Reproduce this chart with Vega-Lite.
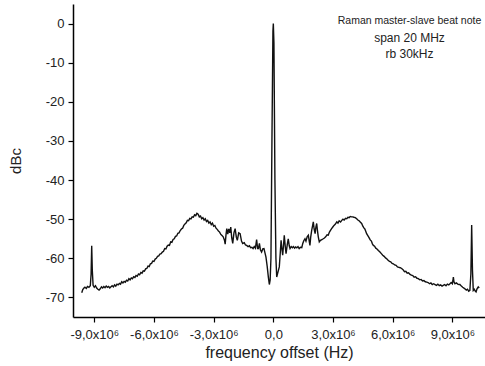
{
  "$schema": "https://vega.github.io/schema/vega-lite/v6.json",
  "width": 412,
  "height": 313,
  "autosize": {"type": "none"},
  "padding": {"left": 73, "top": 4, "right": 0, "bottom": 49},
  "background": "white",
  "config": {"view": {"stroke": null}, "font": "Liberation Sans"},
  "layer": [
    {
      "data": {"values": [
        {"f": -9.63e6, "dbc": -68.8}, {"f": -9.58e6, "dbc": -68.0}, {"f": -9.52e6, "dbc": -67.6}, {"f": -9.47e6, "dbc": -67.4},
        {"f": -9.40e6, "dbc": -67.7}, {"f": -9.34e6, "dbc": -67.2}, {"f": -9.27e6, "dbc": -67.4}, {"f": -9.20e6, "dbc": -67.0},
        {"f": -9.16e6, "dbc": -64.0}, {"f": -9.13e6, "dbc": -56.8}, {"f": -9.10e6, "dbc": -63.0}, {"f": -9.06e6, "dbc": -66.9},
        {"f": -9.00e6, "dbc": -67.4}, {"f": -8.94e6, "dbc": -67.0}, {"f": -8.88e6, "dbc": -67.6}, {"f": -8.82e6, "dbc": -67.9},
        {"f": -8.76e6, "dbc": -68.1}, {"f": -8.70e6, "dbc": -67.8}, {"f": -8.64e6, "dbc": -67.3}, {"f": -8.58e6, "dbc": -67.6},
        {"f": -8.52e6, "dbc": -67.2}, {"f": -8.46e6, "dbc": -67.5}, {"f": -8.40e6, "dbc": -67.1}, {"f": -8.34e6, "dbc": -67.4},
        {"f": -8.28e6, "dbc": -67.2}, {"f": -8.22e6, "dbc": -67.6}, {"f": -8.16e6, "dbc": -67.3}, {"f": -8.10e6, "dbc": -67.0},
        {"f": -8.04e6, "dbc": -67.3}, {"f": -7.98e6, "dbc": -66.8}, {"f": -7.92e6, "dbc": -67.1}, {"f": -7.86e6, "dbc": -66.6},
        {"f": -7.80e6, "dbc": -66.8}, {"f": -7.74e6, "dbc": -66.4}, {"f": -7.68e6, "dbc": -66.6}, {"f": -7.62e6, "dbc": -66.0},
        {"f": -7.56e6, "dbc": -66.3}, {"f": -7.50e6, "dbc": -65.9}, {"f": -7.44e6, "dbc": -66.1}, {"f": -7.38e6, "dbc": -65.6},
        {"f": -7.32e6, "dbc": -65.8}, {"f": -7.26e6, "dbc": -65.2}, {"f": -7.20e6, "dbc": -65.5}, {"f": -7.14e6, "dbc": -65.0},
        {"f": -7.08e6, "dbc": -65.2}, {"f": -7.02e6, "dbc": -64.7}, {"f": -6.96e6, "dbc": -64.9}, {"f": -6.90e6, "dbc": -64.4},
        {"f": -6.84e6, "dbc": -64.6}, {"f": -6.78e6, "dbc": -64.0}, {"f": -6.72e6, "dbc": -64.2}, {"f": -6.66e6, "dbc": -63.6},
        {"f": -6.60e6, "dbc": -63.8}, {"f": -6.54e6, "dbc": -63.2}, {"f": -6.48e6, "dbc": -63.3}, {"f": -6.42e6, "dbc": -62.7},
        {"f": -6.36e6, "dbc": -62.6}, {"f": -6.30e6, "dbc": -62.0}, {"f": -6.24e6, "dbc": -62.1}, {"f": -6.18e6, "dbc": -61.4},
        {"f": -6.12e6, "dbc": -61.3}, {"f": -6.06e6, "dbc": -60.7}, {"f": -6.00e6, "dbc": -60.8}, {"f": -5.94e6, "dbc": -60.2},
        {"f": -5.88e6, "dbc": -60.0}, {"f": -5.82e6, "dbc": -59.5}, {"f": -5.76e6, "dbc": -59.4}, {"f": -5.70e6, "dbc": -58.9},
        {"f": -5.64e6, "dbc": -58.8}, {"f": -5.58e6, "dbc": -58.4}, {"f": -5.52e6, "dbc": -58.2}, {"f": -5.46e6, "dbc": -57.5},
        {"f": -5.40e6, "dbc": -57.6}, {"f": -5.34e6, "dbc": -56.9}, {"f": -5.28e6, "dbc": -56.6}, {"f": -5.22e6, "dbc": -56.7},
        {"f": -5.16e6, "dbc": -55.8}, {"f": -5.10e6, "dbc": -55.9}, {"f": -5.04e6, "dbc": -55.2}, {"f": -4.98e6, "dbc": -55.0},
        {"f": -4.92e6, "dbc": -54.4}, {"f": -4.86e6, "dbc": -54.3}, {"f": -4.80e6, "dbc": -53.6}, {"f": -4.74e6, "dbc": -53.5},
        {"f": -4.68e6, "dbc": -52.9}, {"f": -4.62e6, "dbc": -52.5}, {"f": -4.56e6, "dbc": -52.3}, {"f": -4.50e6, "dbc": -51.6},
        {"f": -4.44e6, "dbc": -51.2}, {"f": -4.38e6, "dbc": -50.9}, {"f": -4.32e6, "dbc": -50.3}, {"f": -4.26e6, "dbc": -50.4},
        {"f": -4.20e6, "dbc": -49.8}, {"f": -4.14e6, "dbc": -49.9}, {"f": -4.08e6, "dbc": -49.4}, {"f": -4.02e6, "dbc": -49.5},
        {"f": -3.96e6, "dbc": -48.9}, {"f": -3.90e6, "dbc": -49.1}, {"f": -3.84e6, "dbc": -48.5}, {"f": -3.78e6, "dbc": -48.7},
        {"f": -3.72e6, "dbc": -49.4}, {"f": -3.66e6, "dbc": -49.2}, {"f": -3.60e6, "dbc": -49.9}, {"f": -3.54e6, "dbc": -49.6},
        {"f": -3.48e6, "dbc": -50.2}, {"f": -3.42e6, "dbc": -49.9}, {"f": -3.36e6, "dbc": -50.6}, {"f": -3.30e6, "dbc": -50.3},
        {"f": -3.24e6, "dbc": -51.0}, {"f": -3.18e6, "dbc": -50.7}, {"f": -3.12e6, "dbc": -51.4}, {"f": -3.06e6, "dbc": -51.0},
        {"f": -3.00e6, "dbc": -51.8}, {"f": -2.94e6, "dbc": -51.6}, {"f": -2.88e6, "dbc": -52.3}, {"f": -2.82e6, "dbc": -52.6},
        {"f": -2.76e6, "dbc": -53.0}, {"f": -2.70e6, "dbc": -53.3}, {"f": -2.64e6, "dbc": -53.9}, {"f": -2.58e6, "dbc": -54.2},
        {"f": -2.52e6, "dbc": -54.5}, {"f": -2.46e6, "dbc": -55.3}, {"f": -2.42e6, "dbc": -56.4}, {"f": -2.38e6, "dbc": -54.0},
        {"f": -2.34e6, "dbc": -52.4}, {"f": -2.29e6, "dbc": -53.8}, {"f": -2.24e6, "dbc": -52.5}, {"f": -2.19e6, "dbc": -53.5},
        {"f": -2.14e6, "dbc": -52.0}, {"f": -2.09e6, "dbc": -54.8}, {"f": -2.04e6, "dbc": -56.2}, {"f": -1.98e6, "dbc": -53.5},
        {"f": -1.92e6, "dbc": -52.4}, {"f": -1.86e6, "dbc": -54.6}, {"f": -1.81e6, "dbc": -55.4}, {"f": -1.74e6, "dbc": -53.5},
        {"f": -1.67e6, "dbc": -53.7}, {"f": -1.60e6, "dbc": -55.6}, {"f": -1.54e6, "dbc": -56.2}, {"f": -1.46e6, "dbc": -56.0},
        {"f": -1.40e6, "dbc": -56.6}, {"f": -1.34e6, "dbc": -56.7}, {"f": -1.27e6, "dbc": -57.0}, {"f": -1.20e6, "dbc": -56.8},
        {"f": -1.14e6, "dbc": -57.3}, {"f": -1.08e6, "dbc": -57.2}, {"f": -1.02e6, "dbc": -57.5}, {"f": -0.96e6, "dbc": -57.0},
        {"f": -0.90e6, "dbc": -57.4}, {"f": -0.84e6, "dbc": -55.2}, {"f": -0.79e6, "dbc": -57.5}, {"f": -0.75e6, "dbc": -57.5},
        {"f": -0.70e6, "dbc": -56.2}, {"f": -0.65e6, "dbc": -57.8}, {"f": -0.59e6, "dbc": -58.4}, {"f": -0.53e6, "dbc": -57.6},
        {"f": -0.47e6, "dbc": -57.5}, {"f": -0.42e6, "dbc": -58.6}, {"f": -0.37e6, "dbc": -59.7}, {"f": -0.31e6, "dbc": -62.0},
        {"f": -0.25e6, "dbc": -64.8}, {"f": -0.20e6, "dbc": -66.7}, {"f": -0.16e6, "dbc": -65.5}, {"f": -0.12e6, "dbc": -60.0},
        {"f": -0.07e6, "dbc": -30.0}, {"f": -0.02e6, "dbc": -2.0}, {"f": 0, "dbc": 0}, {"f": 0.03e6, "dbc": -5.0},
        {"f": 0.08e6, "dbc": -40.0}, {"f": 0.13e6, "dbc": -60.0}, {"f": 0.17e6, "dbc": -64.8}, {"f": 0.22e6, "dbc": -63.8},
        {"f": 0.30e6, "dbc": -62.2}, {"f": 0.35e6, "dbc": -58.5}, {"f": 0.39e6, "dbc": -55.4}, {"f": 0.43e6, "dbc": -57.5},
        {"f": 0.47e6, "dbc": -59.2}, {"f": 0.51e6, "dbc": -56.8}, {"f": 0.55e6, "dbc": -54.1}, {"f": 0.60e6, "dbc": -57.0},
        {"f": 0.64e6, "dbc": -58.8}, {"f": 0.70e6, "dbc": -56.5}, {"f": 0.75e6, "dbc": -55.0}, {"f": 0.80e6, "dbc": -56.8},
        {"f": 0.84e6, "dbc": -57.5}, {"f": 0.90e6, "dbc": -57.0}, {"f": 0.96e6, "dbc": -57.3}, {"f": 1.01e6, "dbc": -57.0},
        {"f": 1.07e6, "dbc": -57.4}, {"f": 1.12e6, "dbc": -57.1}, {"f": 1.18e6, "dbc": -57.3}, {"f": 1.24e6, "dbc": -57.0},
        {"f": 1.30e6, "dbc": -57.5}, {"f": 1.36e6, "dbc": -57.2}, {"f": 1.43e6, "dbc": -57.3}, {"f": 1.48e6, "dbc": -56.2},
        {"f": 1.53e6, "dbc": -55.5}, {"f": 1.59e6, "dbc": -55.0}, {"f": 1.64e6, "dbc": -55.6}, {"f": 1.70e6, "dbc": -54.5},
        {"f": 1.76e6, "dbc": -54.1}, {"f": 1.80e6, "dbc": -55.5}, {"f": 1.84e6, "dbc": -56.7}, {"f": 1.88e6, "dbc": -54.5},
        {"f": 1.93e6, "dbc": -52.8}, {"f": 1.97e6, "dbc": -51.8}, {"f": 2.01e6, "dbc": -50.7}, {"f": 2.05e6, "dbc": -52.5},
        {"f": 2.10e6, "dbc": -53.7}, {"f": 2.14e6, "dbc": -52.0}, {"f": 2.18e6, "dbc": -51.1}, {"f": 2.22e6, "dbc": -53.0},
        {"f": 2.26e6, "dbc": -54.5}, {"f": 2.31e6, "dbc": -55.8}, {"f": 2.37e6, "dbc": -55.4}, {"f": 2.44e6, "dbc": -55.2},
        {"f": 2.51e6, "dbc": -55.0}, {"f": 2.57e6, "dbc": -54.8}, {"f": 2.63e6, "dbc": -54.5}, {"f": 2.70e6, "dbc": -54.0},
        {"f": 2.76e6, "dbc": -54.1}, {"f": 2.82e6, "dbc": -53.3}, {"f": 2.88e6, "dbc": -52.8}, {"f": 2.93e6, "dbc": -52.4},
        {"f": 2.99e6, "dbc": -52.0}, {"f": 3.05e6, "dbc": -51.6}, {"f": 3.11e6, "dbc": -51.3}, {"f": 3.19e6, "dbc": -50.7},
        {"f": 3.25e6, "dbc": -51.0}, {"f": 3.31e6, "dbc": -50.4}, {"f": 3.38e6, "dbc": -50.7}, {"f": 3.44e6, "dbc": -50.3},
        {"f": 3.50e6, "dbc": -50.0}, {"f": 3.56e6, "dbc": -50.2}, {"f": 3.63e6, "dbc": -49.8}, {"f": 3.69e6, "dbc": -49.9},
        {"f": 3.75e6, "dbc": -49.5}, {"f": 3.81e6, "dbc": -49.6}, {"f": 3.87e6, "dbc": -49.3}, {"f": 3.93e6, "dbc": -49.4},
        {"f": 3.99e6, "dbc": -49.4}, {"f": 4.05e6, "dbc": -49.5}, {"f": 4.12e6, "dbc": -49.6}, {"f": 4.19e6, "dbc": -49.9},
        {"f": 4.25e6, "dbc": -50.2}, {"f": 4.31e6, "dbc": -50.4}, {"f": 4.38e6, "dbc": -50.8}, {"f": 4.44e6, "dbc": -51.1},
        {"f": 4.50e6, "dbc": -51.8}, {"f": 4.56e6, "dbc": -52.3}, {"f": 4.60e6, "dbc": -52.5}, {"f": 4.64e6, "dbc": -53.0},
        {"f": 4.69e6, "dbc": -53.7}, {"f": 4.75e6, "dbc": -54.2}, {"f": 4.81e6, "dbc": -54.7}, {"f": 4.87e6, "dbc": -55.3},
        {"f": 4.93e6, "dbc": -55.6}, {"f": 4.98e6, "dbc": -56.3}, {"f": 5.03e6, "dbc": -56.7}, {"f": 5.09e6, "dbc": -56.9},
        {"f": 5.15e6, "dbc": -57.4}, {"f": 5.21e6, "dbc": -57.6}, {"f": 5.28e6, "dbc": -58.0}, {"f": 5.36e6, "dbc": -58.4},
        {"f": 5.43e6, "dbc": -58.8}, {"f": 5.50e6, "dbc": -59.2}, {"f": 5.57e6, "dbc": -59.5}, {"f": 5.64e6, "dbc": -59.9},
        {"f": 5.70e6, "dbc": -60.1}, {"f": 5.77e6, "dbc": -60.5}, {"f": 5.84e6, "dbc": -60.8}, {"f": 5.90e6, "dbc": -60.9},
        {"f": 5.97e6, "dbc": -61.3}, {"f": 6.03e6, "dbc": -61.4}, {"f": 6.10e6, "dbc": -61.7}, {"f": 6.17e6, "dbc": -61.8},
        {"f": 6.24e6, "dbc": -62.2}, {"f": 6.31e6, "dbc": -62.3}, {"f": 6.38e6, "dbc": -62.4}, {"f": 6.45e6, "dbc": -62.6},
        {"f": 6.52e6, "dbc": -62.9}, {"f": 6.59e6, "dbc": -63.4}, {"f": 6.66e6, "dbc": -63.3}, {"f": 6.73e6, "dbc": -63.8},
        {"f": 6.80e6, "dbc": -63.7}, {"f": 6.87e6, "dbc": -64.1}, {"f": 6.94e6, "dbc": -64.3}, {"f": 7.01e6, "dbc": -64.4},
        {"f": 7.08e6, "dbc": -64.8}, {"f": 7.15e6, "dbc": -64.7}, {"f": 7.22e6, "dbc": -65.1}, {"f": 7.29e6, "dbc": -65.2},
        {"f": 7.36e6, "dbc": -65.5}, {"f": 7.43e6, "dbc": -65.4}, {"f": 7.50e6, "dbc": -65.8}, {"f": 7.57e6, "dbc": -65.7},
        {"f": 7.64e6, "dbc": -66.0}, {"f": 7.71e6, "dbc": -66.1}, {"f": 7.78e6, "dbc": -66.2}, {"f": 7.85e6, "dbc": -66.5},
        {"f": 7.92e6, "dbc": -66.3}, {"f": 7.99e6, "dbc": -66.7}, {"f": 8.06e6, "dbc": -66.5}, {"f": 8.13e6, "dbc": -66.7},
        {"f": 8.20e6, "dbc": -66.9}, {"f": 8.27e6, "dbc": -66.6}, {"f": 8.34e6, "dbc": -67.0}, {"f": 8.41e6, "dbc": -66.8},
        {"f": 8.48e6, "dbc": -67.1}, {"f": 8.54e6, "dbc": -66.9}, {"f": 8.61e6, "dbc": -66.7}, {"f": 8.68e6, "dbc": -67.0},
        {"f": 8.75e6, "dbc": -66.6}, {"f": 8.82e6, "dbc": -66.8}, {"f": 8.88e6, "dbc": -66.5}, {"f": 8.94e6, "dbc": -66.2},
        {"f": 9.00e6, "dbc": -66.5}, {"f": 9.03e6, "dbc": -65.6}, {"f": 9.05e6, "dbc": -64.8}, {"f": 9.08e6, "dbc": -66.0},
        {"f": 9.13e6, "dbc": -66.5}, {"f": 9.20e6, "dbc": -66.3}, {"f": 9.27e6, "dbc": -66.6}, {"f": 9.33e6, "dbc": -66.7},
        {"f": 9.38e6, "dbc": -66.7}, {"f": 9.45e6, "dbc": -67.1}, {"f": 9.52e6, "dbc": -67.4}, {"f": 9.58e6, "dbc": -67.6},
        {"f": 9.63e6, "dbc": -67.8}, {"f": 9.70e6, "dbc": -68.1}, {"f": 9.76e6, "dbc": -67.9}, {"f": 9.82e6, "dbc": -68.4},
        {"f": 9.88e6, "dbc": -68.2}, {"f": 9.93e6, "dbc": -64.0}, {"f": 9.97e6, "dbc": -51.5}, {"f": 10.01e6, "dbc": -63.0},
        {"f": 10.05e6, "dbc": -68.2}, {"f": 10.10e6, "dbc": -67.9}, {"f": 10.15e6, "dbc": -68.4}, {"f": 10.19e6, "dbc": -68.6},
        {"f": 10.24e6, "dbc": -67.8}, {"f": 10.30e6, "dbc": -67.3}, {"f": 10.35e6, "dbc": -67.6}
      ]},
      "mark": {"type": "line", "color": "#111111", "strokeWidth": 1.4, "clip": true},
      "encoding": {
        "x": {
          "field": "f", "type": "quantitative",
          "scale": {"domain": [-10.07e6, 10.64e6], "nice": false, "zero": false},
          "axis": {
            "values": [-9e6, -7.5e6, -6e6, -4.5e6, -3e6, -1.5e6, 0, 1.5e6, 3e6, 4.5e6, 6e6, 7.5e6, 9e6, 10.5e6],
            "labelExpr": "datum.value % 3000000 != 0 ? '' : (datum.value == 0 ? '0,0' : (datum.value < 0 ? '-' : '') + replace(format(abs(datum.value) / 1000000, '.1f'), '.', ',') + 'x10⁶')",
            "tickSize": {"condition": {"test": "datum.value % 3000000 != 0", "value": 3}, "value": 5},
            "grid": false,
            "domainColor": "black", "domainWidth": 1.5,
            "tickColor": "black", "tickWidth": 1.2,
            "labelColor": "#222222", "labelFont": "Liberation Sans", "labelFontSize": 13,
            "labelOverlap": false, "labelPadding": 6, "labelFlush": false,
            "title": "frequency offset (Hz)", "titleFont": "Liberation Sans", "titleFontSize": 16,
            "titleFontWeight": "normal", "titleColor": "#222222", "titlePadding": 3
          }
        },
        "y": {
          "field": "dbc", "type": "quantitative",
          "scale": {"domain": [-75, 5], "nice": false, "zero": false},
          "axis": {
            "values": [-70, -65, -60, -55, -50, -45, -40, -35, -30, -25, -20, -15, -10, -5, 0],
            "labelExpr": "datum.value % 10 != 0 ? '' : (datum.value == 0 ? '0' : '-' + abs(datum.value))",
            "tickSize": {"condition": {"test": "datum.value % 10 != 0", "value": 3}, "value": 5},
            "grid": false,
            "domainColor": "black", "domainWidth": 1.5,
            "tickColor": "black", "tickWidth": 1.2,
            "labelColor": "#222222", "labelFont": "Liberation Sans", "labelFontSize": 13,
            "labelOverlap": false, "labelPadding": 4,
            "title": "dBc", "titleFont": "Liberation Sans", "titleFontSize": 15,
            "titleFontWeight": "normal", "titleColor": "#222222", "titlePadding": 22
          }
        }
      }
    },
    {
      "data": {"values": [{"f": 6.845e6, "dbc": -0.1, "label": "Raman master-slave beat note"}]},
      "mark": {"type": "text", "font": "Liberation Sans", "fontSize": 10.5, "color": "#222222", "align": "center", "baseline": "alphabetic"},
      "encoding": {
        "x": {"field": "f", "type": "quantitative"},
        "y": {"field": "dbc", "type": "quantitative"},
        "text": {"field": "label"}
      }
    },
    {
      "data": {"values": [
        {"f": 6.845e6, "dbc": -4.6, "label": "span 20 MHz"},
        {"f": 6.845e6, "dbc": -8.85, "label": "rb 30kHz"}
      ]},
      "mark": {"type": "text", "font": "Liberation Sans", "fontSize": 12, "color": "#222222", "align": "center", "baseline": "alphabetic"},
      "encoding": {
        "x": {"field": "f", "type": "quantitative"},
        "y": {"field": "dbc", "type": "quantitative"},
        "text": {"field": "label"}
      }
    }
  ]
}
